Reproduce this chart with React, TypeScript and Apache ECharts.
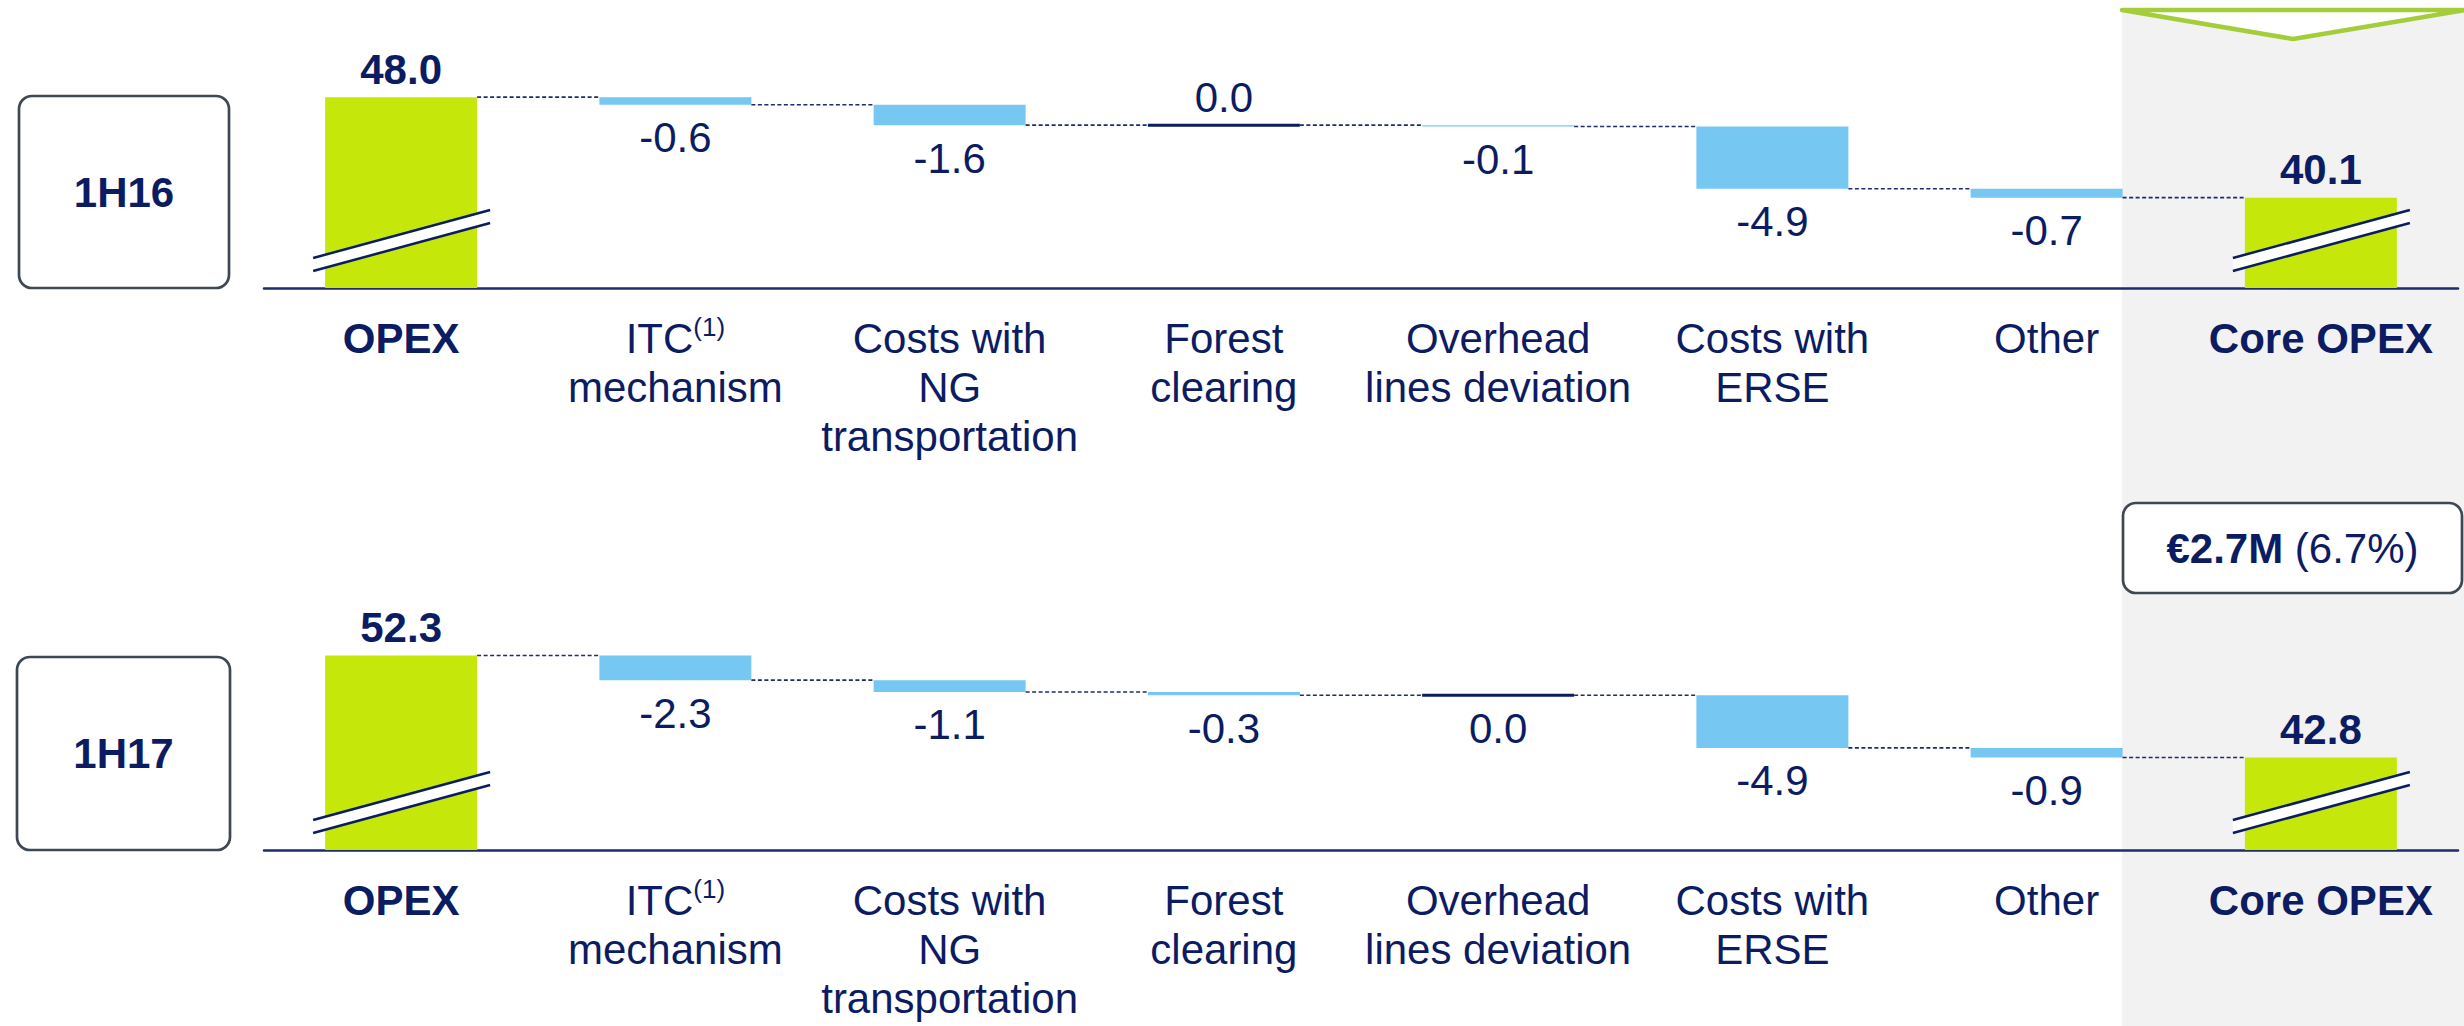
import React, { useEffect, useRef } from 'react';
import * as echarts from 'echarts';

const FONT = "'Liberation Sans', Arial, Helvetica, sans-serif";
const NAVY = '#0c1c62';
const AXIS_NAVY = '#1e2b6c';
const GREEN = '#c5e70a';
const BLUE = '#76c7f2';
const BOX_BORDER = '#3d4852';
const TRI_GREEN = '#a5cd3a';
const GREY_BG = '#f2f2f2';

// ---- data ----
const categories = [
  'OPEX',
  'ITC(1) mechanism',
  'Costs with NG transportation',
  'Forest clearing',
  'Overhead lines deviation',
  'Costs with ERSE',
  'Other',
  'Core OPEX',
];
const categoryRich = [
  '{b|OPEX}',
  '{n|ITC}{sup|(1)}\n{n|mechanism}',
  '{n|Costs with}\n{n|NG}\n{n|transportation}',
  '{n|Forest}\n{n|clearing}',
  '{n|Overhead}\n{n|lines deviation}',
  '{n|Costs with}\n{n|ERSE}',
  '{n|Other}',
  '{b|Core OPEX}',
];
const periods = ['1H16', '1H17'];
const opexTotals = [48.0, 52.3];
const coreOpexTotals = [40.1, 42.8];
const deltas1H16 = [-0.6, -1.6, 0.0, -0.1, -4.9, -0.7];
const deltas1H17 = [-2.3, -1.1, -0.3, 0.0, -4.9, -0.9];
const axisMin = [33, 34.2];
const axisMax = [51, 54.2];
const zeroLabelPosition = ['top', 'bottom'];
const changeAbs = '€2.7M';
const changePct = '(6.7%)';

const BAR_WIDTH = 152;
const r1 = (v: number) => Math.round(v * 10) / 10;

function buildPanel(p: number) {
  const deltas = p === 0 ? deltas1H16 : deltas1H17;
  const opex = opexTotals[p];
  const core = coreOpexTotals[p];
  const base: number[] = [0];
  const items: any[] = [
    {
      value: opex,
      itemStyle: { color: GREEN },
      label: { show: true, position: 'top', distance: 7, fontWeight: 'bold', formatter: opex.toFixed(1) },
    },
  ];
  const connectors: number[][] = [[0, opex]];
  const zeros: number[][] = [];
  let lvl = opex;
  deltas.forEach((d, k) => {
    const idx = k + 1;
    const next = r1(lvl + d);
    base.push(Math.min(lvl, next));
    items.push({
      value: r1(Math.abs(d)),
      itemStyle: { color: BLUE },
      label: {
        show: true,
        position: d === 0 ? zeroLabelPosition[p] : d < 0 ? 'bottom' : 'top',
        distance: d === 0 && zeroLabelPosition[p] === 'top' ? 7 : 12,
        fontWeight: 'normal',
        formatter: d.toFixed(1),
      },
    });
    if (d === 0) zeros.push([idx, lvl]);
    lvl = next;
    connectors.push([idx, lvl]);
  });
  base.push(0);
  items.push({
    value: core,
    itemStyle: { color: GREEN },
    label: { show: true, position: 'top', distance: 7, fontWeight: 'bold', formatter: core.toFixed(1) },
  });
  const breaks = [
    [0, axisMin[p]],
    [categories.length - 1, axisMin[p]],
  ];

  const series: any[] = [
    {
      type: 'bar',
      xAxisIndex: p,
      yAxisIndex: p,
      stack: 'wf' + p,
      barWidth: BAR_WIDTH,
      silent: true,
      itemStyle: { color: 'rgba(0,0,0,0)' },
      data: base,
      z: 2,
    },
    {
      type: 'bar',
      xAxisIndex: p,
      yAxisIndex: p,
      stack: 'wf' + p,
      barWidth: BAR_WIDTH,
      data: items,
      z: 3,
      label: { color: NAVY, fontSize: 42, fontFamily: FONT },
    },
    {
      type: 'custom',
      xAxisIndex: p,
      yAxisIndex: p,
      z: 4,
      data: connectors,
      renderItem: (params: any, api: any) => {
        const c = api.coord([api.value(0), api.value(1)]);
        const band = api.size([1, 0])[0];
        const half = BAR_WIDTH / 2;
        if (api.value(0) >= categories.length - 1) return null;
        return {
          type: 'line',
          shape: { x1: c[0] + half, y1: c[1], x2: c[0] + band - half, y2: c[1] },
          style: { stroke: AXIS_NAVY, lineWidth: 1.6, lineDash: [4, 2.5] },
        };
      },
    },
    {
      type: 'custom',
      xAxisIndex: p,
      yAxisIndex: p,
      z: 5,
      data: zeros,
      renderItem: (params: any, api: any) => {
        const c = api.coord([api.value(0), api.value(1)]);
        return {
          type: 'rect',
          shape: { x: c[0] - BAR_WIDTH / 2, y: c[1] - 1.5, width: BAR_WIDTH, height: 3 },
          style: { fill: NAVY },
        };
      },
    },
    {
      type: 'custom',
      xAxisIndex: p,
      yAxisIndex: p,
      z: 6,
      data: breaks,
      renderItem: (params: any, api: any) => {
        const c = api.coord([api.value(0), api.value(1)]);
        const xl = c[0] - BAR_WIDTH / 2 - 12;
        const xr = c[0] + BAR_WIDTH / 2 + 13;
        const by = c[1];
        return {
          type: 'group',
          children: [
            {
              type: 'polygon',
              shape: { points: [[xl, by - 30], [xr, by - 78], [xr, by - 65], [xl, by - 17]] },
              style: { fill: '#ffffff' },
            },
            {
              type: 'line',
              shape: { x1: xl, y1: by - 30, x2: xr, y2: by - 78 },
              style: { stroke: NAVY, lineWidth: 2.5 },
            },
            {
              type: 'line',
              shape: { x1: xl, y1: by - 17, x2: xr, y2: by - 65 },
              style: { stroke: NAVY, lineWidth: 2.5 },
            },
          ],
        };
      },
    },
  ];
  return series;
}

const labelRich = {
  n: { fontFamily: FONT, fontSize: 42, lineHeight: 49, color: NAVY },
  b: { fontFamily: FONT, fontSize: 42, lineHeight: 49, color: NAVY, fontWeight: 'bold' },
  sup: { fontFamily: FONT, fontSize: 26, lineHeight: 36, color: NAVY, verticalAlign: 'top' },
};

function makeXAxis(p: number) {
  return {
    type: 'category',
    gridIndex: p,
    data: categories,
    axisTick: { show: false },
    axisLine: { lineStyle: { color: AXIS_NAVY, width: 2.5 } },
    axisLabel: {
      interval: 0,
      margin: 26,
      color: NAVY,
      fontFamily: FONT,
      fontSize: 42,
      lineHeight: 49,
      formatter: (_v: string, idx: number) => categoryRich[idx],
      rich: labelRich,
    },
    splitLine: { show: false },
  };
}

function makeYAxis(p: number) {
  return {
    type: 'value',
    gridIndex: p,
    min: axisMin[p],
    max: axisMax[p],
    show: false,
    splitLine: { show: false },
  };
}

function boxGraphic(x: number, y: number, w: number, h: number, text: string, rich?: any) {
  return {
    type: 'group',
    z: 10,
    children: [
      {
        type: 'rect',
        shape: { x, y, width: w, height: h, r: 13 },
        style: { fill: '#ffffff', stroke: BOX_BORDER, lineWidth: 2.7 },
      },
      {
        type: 'text',
        x: x + w / 2,
        y: y + h / 2,
        style: {
          text,
          fill: NAVY,
          font: `bold 42px ${FONT}`,
          fontFamily: FONT,
          fontSize: 42,
          fontWeight: 'bold',
          align: 'center',
          verticalAlign: 'middle',
          rich,
        },
      },
    ],
  };
}

export default function App() {
  const ref = useRef<HTMLDivElement>(null);
  useEffect(() => {
    if (!ref.current) return;
    const chart = echarts.init(ref.current, undefined, { renderer: 'svg' });
    const option: any = {
      animation: false,
      backgroundColor: '#ffffff',
      grid: [
        { left: 264, right: 6, top: 59, height: 229, containLabel: false },
        { left: 264, right: 6, top: 635, height: 215, containLabel: false },
      ],
      xAxis: [makeXAxis(0), makeXAxis(1)],
      yAxis: [makeYAxis(0), makeYAxis(1)],
      series: [...buildPanel(0), ...buildPanel(1)],
      graphic: [
        {
          type: 'rect',
          z: -10,
          shape: { x: 2122, y: 10, width: 342, height: 1016 },
          style: { fill: GREY_BG },
          silent: true,
        },
        {
          type: 'polygon',
          z: 10,
          shape: { points: [[2122, 10], [2466, 10], [2293, 39]] },
          style: { fill: '#ffffff', stroke: TRI_GREEN, lineWidth: 4.5, lineJoin: 'round' },
        },
        boxGraphic(19, 96, 210, 192, periods[0]),
        boxGraphic(17, 657, 213, 193, periods[1]),
        boxGraphic(2123, 503, 339, 90, `{b|${changeAbs}} {r|${changePct}}`, {
          b: { fontFamily: FONT, fontSize: 42, fontWeight: 'bold', color: NAVY },
          r: { fontFamily: FONT, fontSize: 42, fontWeight: 'normal', color: NAVY },
        }),
      ],
    };
    chart.setOption(option);
    return () => chart.dispose();
  }, []);
  return (
    <div
      ref={ref}
      style={{ position: 'absolute', left: 0, top: 0, width: 2464, height: 1026 }}
    />
  );
}
